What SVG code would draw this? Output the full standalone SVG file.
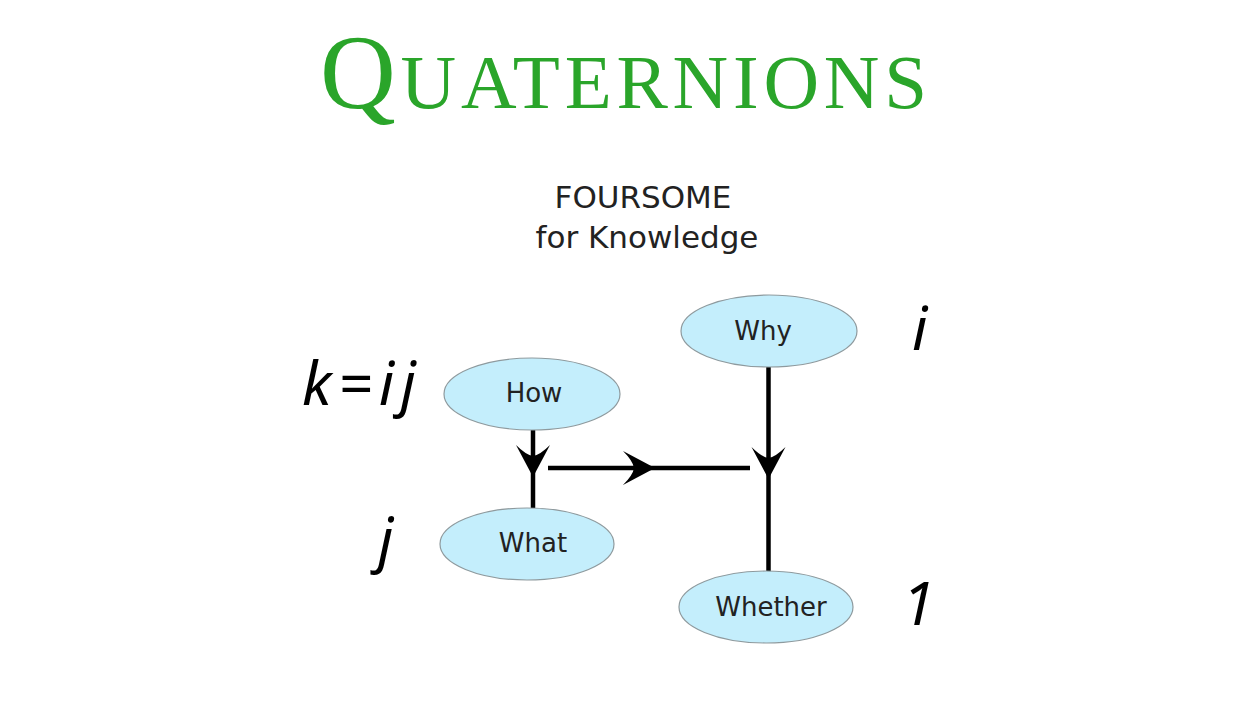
<svg xmlns="http://www.w3.org/2000/svg" width="1260" height="720" viewBox="0 0 1260 720">
<style>
.title{font-family:"Liberation Serif","DejaVu Serif",serif;fill:#2aa52a}
.sub{font-family:"DejaVu Sans",sans-serif;font-size:31px;fill:#222;text-anchor:middle}
.node ellipse{fill:#c4eefc;stroke:#8e9a9e;stroke-width:1.2}
.node text{font-family:"DejaVu Sans",sans-serif;font-size:26px;fill:#222;text-anchor:middle}
.math{font-family:"Noto Sans","Open Sans",sans-serif;font-style:italic;font-size:60px;fill:#000}
.edge{stroke:#000;stroke-width:4.5;fill:none}
.head{fill:#000}
</style>
<defs>
<path id="ah" d="M0,0 L-32,-17 Q-22,-7 -21,0 Q-22,7 -32,17 Z"/>
</defs>
<rect width="1260" height="720" fill="#fff"/>
<text class="title" x="320" y="108" textLength="607" lengthAdjust="spacing"><tspan font-size="105">Q</tspan><tspan font-size="77">UATERNIONS</tspan></text>
<text class="sub" x="643" y="208">FOURSOME</text>
<text class="sub" x="647" y="248">for Knowledge</text>
<g id="connectors">
<line class="edge" x1="533" y1="430" x2="533" y2="508"/>
<line class="edge" x1="548" y1="468" x2="750" y2="468"/>
<line class="edge" x1="768.5" y1="367" x2="768.5" y2="572"/>
<use href="#ah" class="head" transform="translate(533,477) rotate(90)"/>
<use href="#ah" class="head" transform="translate(655,468)"/>
<use href="#ah" class="head" transform="translate(768.5,479) rotate(90)"/>
</g>
<g id="why" class="node"><ellipse cx="769" cy="331" rx="88" ry="36"/><text x="763" y="340">Why</text></g>
<g id="how" class="node"><ellipse cx="532" cy="394" rx="88" ry="36"/><text x="534" y="402">How</text></g>
<g id="what" class="node"><ellipse cx="527" cy="544" rx="87" ry="36"/><text x="533" y="552">What</text></g>
<g id="whether" class="node"><ellipse cx="766" cy="607" rx="87" ry="36"/><text x="771" y="616">Whether</text></g>
<text class="math" x="302" y="405" textLength="114" lengthAdjust="spacing">k=ij</text>
<text class="math" x="912" y="350">i</text>
<text class="math" x="378" y="561">j</text>
<text class="math" x="902" y="625">1</text>
</svg>
